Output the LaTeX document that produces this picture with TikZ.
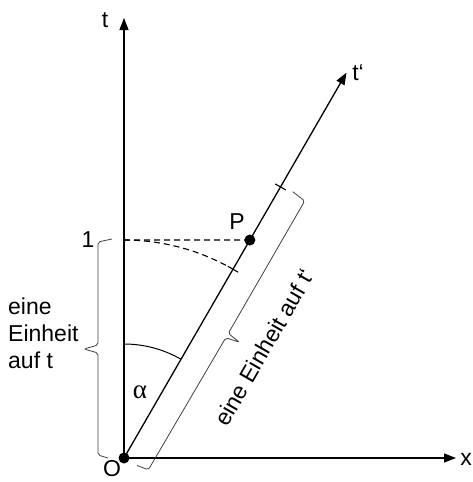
\documentclass[tikz,border=0pt]{standalone}
\usepackage{fontspec}
\setmainfont{Liberation Sans}
\newfontfamily\greekfont{Liberation Serif}
\usetikzlibrary{arrows.meta,calc}
\begin{document}
\begin{tikzpicture}[x=1pt,y=1pt,
  axis/.style={line width=1.3pt,-{Triangle[length=12pt,width=9pt]}},
  lbl/.style={font=\fontsize{23}{27}\selectfont, inner sep=0pt},
  bracel/.style={line width=0.8pt, draw=black!75, rounded corners=2pt},
  dashline/.style={line width=1.1pt, dash pattern=on 6pt off 4pt},
  tickmark/.style={line width=1.1pt},
  dot/.style={fill=black}]
\useasboundingbox (0,0) rectangle (472,-482);
\coordinate (O) at (124,-458);
\coordinate (T) at (124,-18);
\coordinate (X) at (456,-458);
\coordinate (Tp) at ($(O)+(60:445)$);
\coordinate (P) at ($(O)+(60:251.7)$);
\coordinate (E1) at (124,-240);
\coordinate (A1) at (124,-344);
% axes
\draw[axis] (O) -- (T);
\draw[axis] (O) -- (X);
\draw[axis] (O) -- (Tp);
% dashed construction
\draw[dashline] (E1) -- (P);
\draw[dashline] (E1) arc[start angle=90, end angle=61.5, radius=218];
% angle alpha
\draw[line width=1pt] (A1) arc[start angle=90, end angle=60, radius=114];
% ticks and brace along t'
\begin{scope}[shift={(124,-458)}, rotate=60]
  \draw[tickmark] (218,-6) -- (218,6);
  \draw[tickmark] (313,-6) -- (313,6);
  \draw[bracel] (0,-15) -- (2,-27) -- (155,-28) -- (158,-42) -- (160,-28) -- (313,-28) -- (315,-13);
\end{scope}
% brace along t
\draw[bracel] (112,-239) -- (98,-242) -- (98,-345) -- (84,-349) -- (98,-353) -- (98,-455) -- (108,-458);
% dots
\fill[dot] (O) circle (5.5);
\fill[dot] (P) circle (5.5);
% labels
\node[lbl] (lt) at (105,-20) {t};
\node[lbl] (ltp) at (358,-73) {t‘};
\node[lbl] (lx) at (466,-459) {x};
\node[lbl] (l1) at (88,-240) {1};
\node[lbl] (lP) at (237,-222) {P};
\node[lbl] (lO) at (112,-469) {O};
\node[lbl, font=\greekfont\fontsize{27}{30}\selectfont] (la) at (140,-392) {α};
\node[lbl, align=left, anchor=west] (lunit) at (8,-333) {eine\\Einheit\\auf t};
\node[lbl, rotate=60] (lunitp) at ($(O)+(60:166)+(-30:66)$) {eine Einheit auf t‘};
\end{tikzpicture}
\end{document}
